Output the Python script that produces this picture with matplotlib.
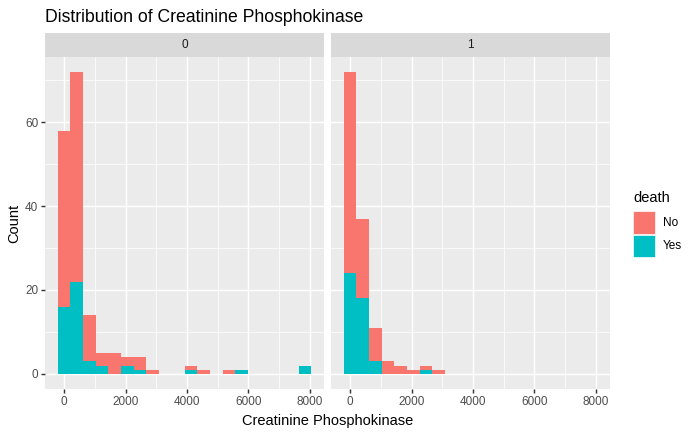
import numpy as np
import matplotlib
matplotlib.use('Agg')
import matplotlib.pyplot as plt
from matplotlib.patches import Rectangle

plt.rcParams['font.family'] = ['Liberation Sans', 'DejaVu Sans']

#
# data: counts per bin (20 bins over the CPK range), split by facet and death
#
bin_start = -206.25
bin_width = 412.5
facets = ['0', '1']
death_levels = ['No', 'Yes']
colors = {'No': '#F8766D', 'Yes': '#00BFC4'}

counts_no_0 = [42, 50, 11, 3, 5, 2, 3, 1, 0, 0, 1, 1, 0, 1, 0, 0, 0, 0, 0, 0]
counts_yes_0 = [16, 22, 3, 2, 0, 2, 1, 0, 0, 0, 1, 0, 0, 0, 1, 0, 0, 0, 0, 2]
counts_no_1 = [48, 19, 8, 3, 2, 1, 1, 1, 0, 0, 0, 0, 0, 0, 0, 0, 0, 0, 0, 0]
counts_yes_1 = [24, 18, 3, 0, 0, 0, 1, 0, 0, 0, 0, 0, 0, 0, 0, 0, 0, 0, 0, 0]

x_ticks = [0, 2000, 4000, 6000, 8000]
y_ticks = [0, 20, 40, 60]

#
# layout (pixels)
#
W, H = 696, 435
DPI = 96
fig = plt.figure(figsize=(W / DPI, H / DPI), dpi=DPI)
fig.patch.set_facecolor('white')


def px_axes(x0, y0, x1, y1):
    return fig.add_axes([x0 / W, 1 - y1 / H, (x1 - x0) / W, (y1 - y0) / H])


edges = bin_start + bin_width * np.arange(len(counts_no_0))
total_max = max(np.max(np.add(counts_no_0, counts_yes_0)), np.max(np.add(counts_no_1, counts_yes_1)))
x_lo, x_hi = edges[0], edges[-1] + bin_width
x_pad = (x_hi - x_lo) * 0.05
y_pad = total_max * 0.05

panels = [(45, 324, counts_no_0, counts_yes_0), (331, 610, counts_no_1, counts_yes_1)]
for i, (left, right, no, yes) in enumerate(panels):
    ax = px_axes(left, 56.7, right, 389)
    ax.set_facecolor('#EBEBEB')
    for s in ax.spines.values():
        s.set_visible(False)
    ax.set_xlim(x_lo - x_pad, x_hi + x_pad)
    ax.set_ylim(-y_pad, total_max + y_pad)
    ax.set_xticks(x_ticks)
    ax.set_yticks(y_ticks)
    ax.set_xticks([1000, 3000, 5000, 7000], minor=True)
    ax.set_yticks([10, 30, 50, 70], minor=True)
    ax.grid(which='major', color='white', linewidth=1.07)
    ax.grid(which='minor', color='white', linewidth=0.53)
    ax.set_axisbelow(True)
    ax.tick_params(which='major', length=2.75, width=1.07, color='#333333',
                   labelsize=8.8, labelcolor='#4D4D4D', pad=2.2)
    ax.tick_params(which='minor', length=0)
    if i > 0:
        ax.tick_params(axis='y', length=0, labelleft=False)

    ax.bar(edges, yes, width=bin_width, align='edge', color=colors['Yes'], linewidth=0)
    ax.bar(edges, no, width=bin_width, bottom=yes, align='edge', color=colors['No'], linewidth=0)

    # facet strip
    sax = px_axes(left, 33, right, 56.7)
    sax.set_facecolor('#D9D9D9')
    sax.set_xticks([])
    sax.set_yticks([])
    for s in sax.spines.values():
        s.set_visible(False)
    sax.text(0.5, 0.5, facets[i], ha='center', va='center', fontsize=8.8,
             color='#1A1A1A', transform=sax.transAxes)

# titles
fig.text(45 / W, 1 - 17 / H, 'Distribution of Creatinine Phosphokinase',
         ha='left', va='center', fontsize=13.2, color='black')
fig.text(((45 + 610) / 2) / W, 1 - 421 / H, 'Creatinine Phosphokinase',
         ha='center', va='center', fontsize=11, color='black')
fig.text(14 / W, 1 - 223 / H, 'Count', ha='center', va='center',
         rotation=90, fontsize=11, color='black')

# legend
fig.text(633 / W, 1 - 198 / H, 'death', ha='left', va='center', fontsize=11, color='black')
for j, lev in enumerate(death_levels):
    top = 211 + j * 23
    fig.patches.append(Rectangle((633 / W, 1 - (top + 23) / H), 22 / W, 22.5 / H,
                                 transform=fig.transFigure, facecolor=colors[lev],
                                 edgecolor='white', linewidth=0.5))
    fig.text(663 / W, 1 - (top + 11.5) / H, lev, ha='left', va='center',
             fontsize=8.8, color='black')

plt.savefig('out.png', dpi=DPI)
